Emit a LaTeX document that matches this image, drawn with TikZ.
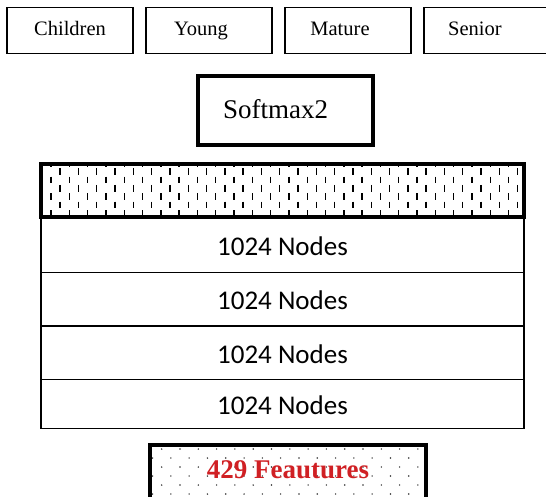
\documentclass[tikz,border=0pt]{standalone}
\usepackage{fontspec}
\setmainfont{Liberation Serif}
\newfontfamily\layerfont{Carlito}
\usepackage{xcolor}
\usepackage{tikz}
\usetikzlibrary{positioning, calc}

\definecolor{featred}{RGB}{208,32,36}

\begin{document}
\begin{tikzpicture}[
    x=1pt, y=-1pt,
    outer sep=0pt, inner sep=0pt,
    classbox/.style={rectangle, draw=black, line width=1.3pt, minimum width=126pt, minimum height=46pt,
        text height=14pt, text depth=4.5pt, font=\fontsize{20.5}{20.5}\selectfont},
    softbox/.style={rectangle, draw=black, line width=3.5pt, minimum width=175pt, minimum height=69pt,
        text depth=4pt, font=\fontsize{27}{27}\selectfont},
    layer/.style={rectangle, draw=black, line width=1.3pt, minimum width=483pt, minimum height=53.5pt,
        text height=21pt, text depth=0pt, font=\layerfont\fontsize{27}{27}\selectfont},
    padright/.style={execute at end node={\hspace*{#1}}},
    dashmark/.style={line width=1.4pt},
    dotmark/.style={fill=black!80},
    % top layer with short vertical dashes
    dropbox/.style={layer, line width=4pt, fill=white, minimum height=52.2pt,
        path picture={
            \foreach \i in {0,...,52}{
                \pgfmathsetmacro{\dy}{mod(\i+1,2)*8.3-4.5}
                \foreach \j in {0,...,3}
                    \draw[dashmark] ($(path picture bounding box.north west)+(0.85+9.15*\i,\dy+16.7*\j)$) -- ++(0,6.7);
            }
        }},
    % input box with dotted fill
    featbox/.style={rectangle, draw=black, line width=4pt, fill=white, minimum width=276pt, minimum height=56pt, text depth=7pt,
        text=featred, font=\bfseries\fontsize{27}{27}\selectfont,
        path picture={
            \foreach \m in {0,...,6}{
                \pgfmathsetmacro{\dx}{mod(\m,2)*9.15-6.6}
                \foreach \k in {0,...,16}
                    \fill[dotmark] ($(path picture bounding box.north west)+(\dx+18.3*\k,4+9*\m)$) circle (0.8);
            }
        }}
]
\path[use as bounding box, fill=white] (0,0) rectangle (546,497);

% output classes
\node[classbox] (child) at (70,30.3) {Children};
\node[classbox, padright=16pt, right=13pt of child] (young) {Young};
\node[classbox, padright=16pt, right=13pt of young] (mature) {Mature};
\node[classbox, padright=24pt, right=13pt of mature] (senior) {Senior};

\node[softbox, padright=20pt] (soft) at (285.5,110.5) {Softmax2};

% hidden layers
\node[dropbox] (drop) at (282.5,190.6) {};
\node[layer, minimum height=55.6pt, below=0pt of drop] (hid1) {1024 Nodes};
\node[layer, minimum height=53.7pt, below=0pt of hid1] (hid2) {1024 Nodes};
\node[layer, minimum height=53.3pt, below=0pt of hid2] (hid3) {1024 Nodes};
\node[layer, minimum height=49pt, below=0pt of hid3] (hid4) {1024 Nodes};

\node[featbox] (feat) at (288,473) {429 Feautures};
\end{tikzpicture}
\end{document}
